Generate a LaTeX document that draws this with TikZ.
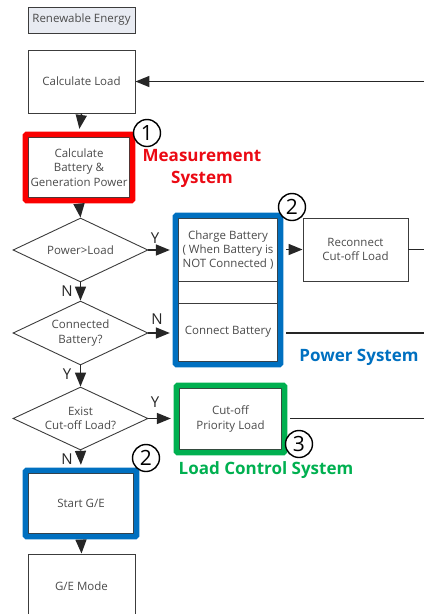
\documentclass[tikz,border=0pt]{standalone}
\usepackage{fontspec}
\setmainfont{Open Sans}
\usetikzlibrary{shapes.geometric,arrows.meta,fit,calc}
\definecolor{redc}{RGB}{250,0,0}
\definecolor{redt}{RGB}{235,10,20}
\definecolor{bluec}{RGB}{0,112,192}
\definecolor{greenc}{RGB}{0,176,80}
\definecolor{bordc}{RGB}{60,60,60}
\definecolor{txtc}{RGB}{75,75,75}
\definecolor{renfill}{RGB}{232,235,242}
\tikzset{
  box/.style={draw=bordc, line width=0.9pt, fill=white, text=txtc, align=center, inner sep=0pt,
    font=\fontsize{11.5}{14.3}\selectfont},
  dia/.style={diamond, draw=bordc, line width=0.9pt, fill=white, inner sep=0pt,
    minimum width=135pt, minimum height=64pt},
  diatxt/.style={text=txtc, align=center, inner sep=0pt, font=\fontsize{11.5}{14.3}\selectfont},
  frame/.style={draw=#1, line width=5.5pt, inner sep=3pt, rounded corners=1.5pt},
  arr/.style={-{Triangle[length=14pt,width=11pt]}, line width=1.5pt, draw=black!85},
  ln/.style={line width=1.5pt, draw=black!85},
  lab/.style={font=\fontsize{15}{15}\selectfont, text=black!85, inner sep=0pt},
  num/.style={circle, draw=black, line width=1.4pt, fill=white, minimum size=27pt, inner sep=0pt,
    font=\fontsize{21}{21}\selectfont},
  sysl/.style={font=\bfseries\fontsize{17}{22}\selectfont, align=center, inner sep=0pt}
}
\begin{document}
\begin{tikzpicture}[x=1pt,y=-1pt]
\useasboundingbox (0,0) rectangle (424,614);
\clip (0,0) rectangle (424,614);
\coordinate (right) at (424,0);

% left column
\node[box, fill=renfill, minimum width=107pt, minimum height=26pt] (ren) at (81.5,20) {Renewable Energy};
\node[box, minimum width=107pt, minimum height=63pt] (cload) at (81.5,81.5) {Calculate Load};
\node[box, minimum width=100.5pt, minimum height=59.5pt] (cbat) at (79,167.5) {Calculate\\Battery \&\\Generation Power};
\node[frame=redc, fit=(cbat)] (cbatF) {};

\node[dia] (d1) at (80.5,250) {};
\node[diatxt] (d1t) at (d1.center) {Power>Load};
\node[dia] (d2) at (80.5,333) {};
\node[diatxt] (d2t) at (d2.center) {Connected\\Battery?};
\node[dia, minimum height=63pt] (d3) at (80.5,418.5) {};
\node[diatxt] (d3t) at (d3.center) {Exist\\Cut-off Load?};

\node[box, minimum width=104.5pt, minimum height=59.5pt] (sge) at (81,503.5) {Start G/E};
\node[frame=bluec, fit=(sge)] (sgeF) {};
\node[box, minimum width=107pt, minimum height=64pt] (gem) at (81.5,586) {G/E Mode};

% power system group
\node[box, minimum width=98.5pt, minimum height=62.25pt] (chg) at (228,249.9) {Charge Battery\\( When Battery is\\NOT Connected )};
\node[box, minimum width=98.5pt, minimum height=22pt] (mid) at (228,292) {};
\node[box, minimum width=98.5pt, minimum height=58.25pt] (conb) at (228,332.1) {Connect Battery};
\node[frame=bluec, fit=(chg)(conb)] (bluF) {};

\node[box, minimum width=105pt, minimum height=63pt] (rec) at (355.5,249.5) {Reconnect\\Cut-off Load};

% load control
\node[box, minimum width=101.5pt, minimum height=60.5pt] (cut) at (230.5,419) {Cut-off\\Priority Load};
\node[frame=greenc, fit=(cut)] (cutF) {};

% connectors
\draw[arr] (cload.east -| right) -- (cload.east);
\draw[arr, shorten >=2.7pt] (cload.south) -- (cbatF.north);
\draw[arr, shorten <=2.7pt] (cbatF.south) -- (d1.north);
\draw[arr] (d1.south) -- (d2.north);
\draw[arr] (d2.south) -- (d3.north);
\draw[arr, shorten >=2.7pt] (d3.south) -- (sgeF.north);
\draw[arr, shorten <=2.7pt] (sgeF.south) -- (gem.north);
\draw[arr, shorten >=2.7pt] (d1.east) -- (d1.east -| bluF.west);
\draw[arr, shorten >=2.7pt] (d2.east) -- (d2.east -| bluF.west);
\draw[arr, shorten >=2.7pt] (d3.east) -- (d3.east -| cutF.west);
\draw[arr, shorten <=2.7pt] (rec.west -| bluF.east) -- (rec.west);
\draw[ln] (rec.east) -- (rec.east -| right);
\draw[ln, shorten <=2.7pt] (d2.east -| bluF.east) -- (d2.east -| right);
\draw[ln, shorten <=2.7pt] (d3.east -| cutF.east) -- (d3.east -| right);

% Y/N labels
\node[lab] (y1) at (155,238) {Y};
\node[lab] (n1) at (67,291) {N};
\node[lab] (n2) at (157,319) {N};
\node[lab] (y2) at (67,374) {Y};
\node[lab] (y3) at (155,402) {Y};
\node[lab] (n3) at (67,459) {N};

% numbers
\node[num] (c1) at (147,133) {1};
\node[num] (c2a) at (292,207) {2};
\node[num] (c2b) at (146,458) {2};
\node[num] (c3) at (299,444) {3};

% system labels
\node[sysl, text=redt] (ms) at (202,168) {Measurement\\System};
\node[sysl, text=bluec] (ps) at (359,357) {Power System};
\node[sysl, text=greenc] (lcs) at (266,470) {Load Control System};
\end{tikzpicture}
\end{document}
